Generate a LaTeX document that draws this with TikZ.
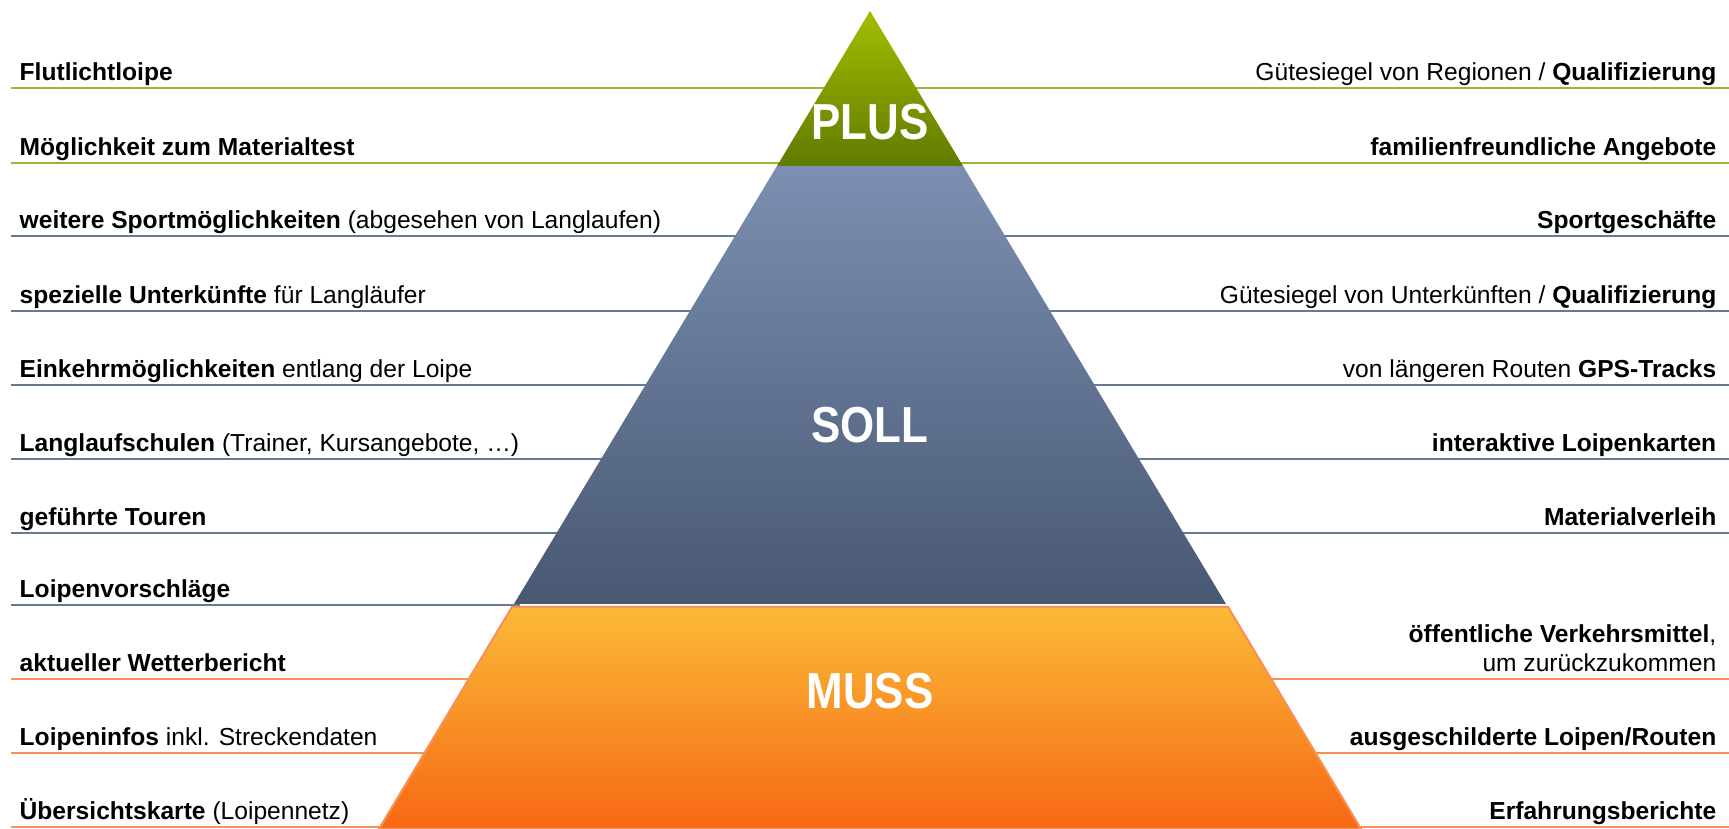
\documentclass[tikz,border=0pt]{standalone}
\usepackage{fontspec}
\usepackage{graphicx}
\setmainfont{Liberation Sans}

\definecolor{plustop}{RGB}{163,190,0}
\definecolor{plusbot}{RGB}{96,122,0}
\definecolor{solltop}{RGB}{124,143,178}
\definecolor{sollbot}{RGB}{72,88,114}
\definecolor{musstop}{RGB}{250,186,56}
\definecolor{mussbot}{RGB}{247,104,20}
\definecolor{plusrule}{RGB}{150,185,60}
\definecolor{sollrule}{RGB}{105,120,150}
\definecolor{mussrule}{RGB}{247,145,85}

\begin{document}
\begin{tikzpicture}[x=0.1mm, y=-0.1mm,
  font=\fontsize{7}{8.4}\selectfont,
  lefttext/.style={anchor=base west, inner sep=0pt},
  righttext/.style={anchor=base east, inner sep=0pt, align=right},
  levellabel/.style={text=white, inner sep=0pt, font=\fontsize{12}{14}\selectfont\bfseries},
  rule/.style={line width=0.8pt}]

\useasboundingbox (0,0) rectangle (1729,829);

% Guide lines
\foreach \y in {88,163}
    \draw[rule, plusrule] (11,\y) -- (1729,\y);
\foreach \y in {236,311,385,459,533}
    \draw[rule, sollrule] (11,\y) -- (1729,\y);
\draw[rule, sollrule] (11,605) -- (520,605);
\foreach \y in {679,753,827}
    \draw[rule, mussrule] (11,\y) -- (1729,\y);

% Pyramid
\shade[top color=plustop, bottom color=plusbot] (870,11) -- (963,166) -- (777,166) -- cycle;
\shade[top color=solltop, bottom color=sollbot] (777,166) -- (963,166) -- (1226,604) -- (514,604) -- cycle;
\shade[top color=musstop, bottom color=mussbot, draw=mussrule, line width=0.6pt]
    (512,607) -- (1228,607) -- (1361,829) -- (379,829) -- cycle;

\node[levellabel] (plus) at (870,122) {\scalebox{1.04}[1.2]{PLUS}};
\node[levellabel] (soll) at (870,425) {\scalebox{1.04}[1.2]{SOLL}};
\node[levellabel] (muss) at (870,691) {\scalebox{1.04}[1.2]{MUSS}};

% Left column
\node[lefttext] (l1) at (19,81) {\textbf{Flutlichtloipe}};
\node[lefttext] (l2) at (19,156) {\textbf{Möglichkeit zum Materialtest}};
\node[lefttext] (l3) at (19,229) {\textbf{weitere Sportmöglichkeiten} (abgesehen von Langlaufen)};
\node[lefttext] (l4) at (19,304) {\textbf{spezielle Unterkünfte} für Langläufer};
\node[lefttext] (l5) at (19,378) {\textbf{Einkehrmöglichkeiten} entlang der Loipe};
\node[lefttext] (l6) at (19,452) {\textbf{Langlaufschulen} (Trainer, Kursangebote, …)};
\node[lefttext] (l7) at (19,526) {\textbf{geführte Touren}};
\node[lefttext] (l8) at (19,598) {\textbf{Loipenvorschläge}};
\node[lefttext] (l9) at (19,672) {\textbf{aktueller Wetterbericht}};
\node[lefttext] (l10) at (19,746) {\textbf{Loipeninfos} inkl. Streckendaten};
\node[lefttext] (l11) at (19,820) {\textbf{Übersichtskarte} (Loipennetz)};

% Right column
\node[righttext] (r1) at (1717,81) {Gütesiegel von Regionen / \textbf{Qualifizierung}};
\node[righttext] (r2) at (1717,156) {\textbf{familienfreundliche Angebote}};
\node[righttext] (r3) at (1717,229) {\textbf{Sportgeschäfte}};
\node[righttext] (r4) at (1717,304) {Gütesiegel von Unterkünften / \textbf{Qualifizierung}};
\node[righttext] (r5) at (1717,378) {von längeren Routen \textbf{GPS-Tracks}};
\node[righttext] (r6) at (1717,452) {\textbf{interaktive Loipenkarten}};
\node[righttext] (r7) at (1717,526) {\textbf{Materialverleih}};
\node[righttext] (r9) at (1717,672) {\textbf{öffentliche Verkehrsmittel},\\um zurückzukommen};
\node[righttext] (r10) at (1717,746) {\textbf{ausgeschilderte Loipen/Routen}};
\node[righttext] (r11) at (1717,820) {\textbf{Erfahrungsberichte}};

\end{tikzpicture}
\end{document}
